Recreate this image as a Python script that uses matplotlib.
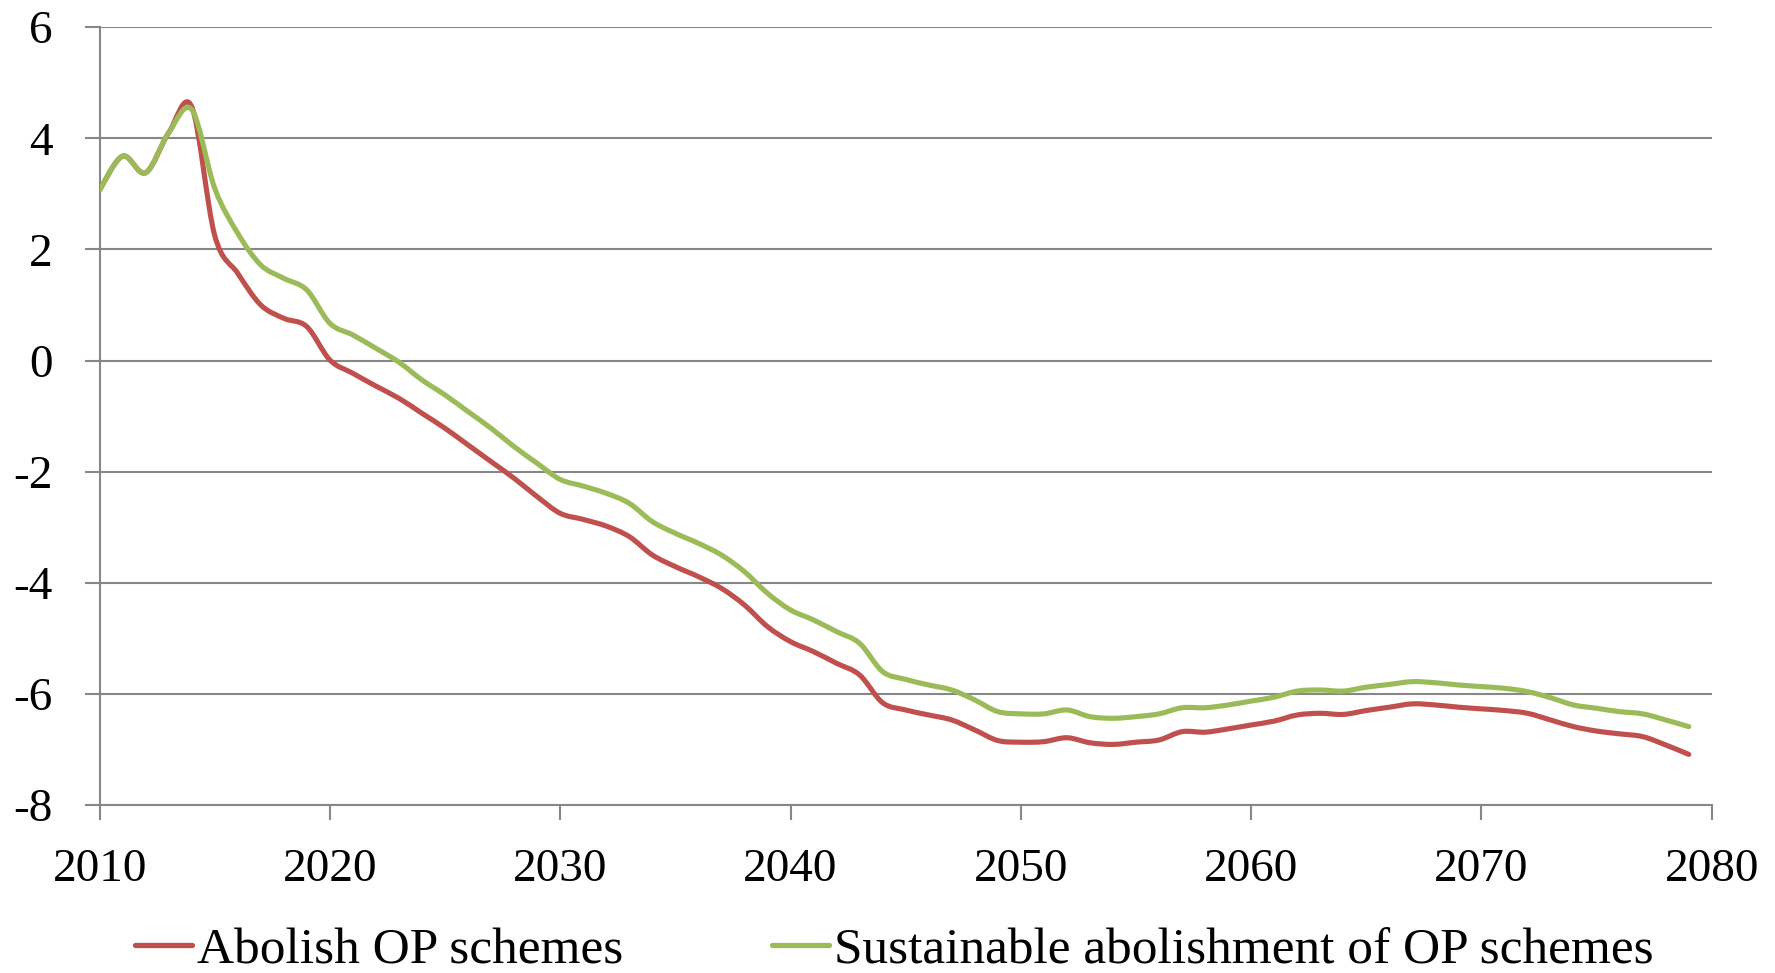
import numpy as np
import matplotlib
matplotlib.use("Agg")
from matplotlib import pyplot as plt
from matplotlib.path import Path
from matplotlib.patches import PathPatch
from matplotlib.lines import Line2D

years = list(range(2010, 2080))

abolish = [
    3.07, 3.68, 3.38, 4.10, 4.57, 2.25, 1.57, 1.00, 0.76, 0.61,
    0.01, -0.23, -0.46, -0.68, -0.95, -1.22, -1.52, -1.82, -2.12, -2.45,
    -2.75, -2.86, -2.98, -3.17, -3.50, -3.71, -3.89, -4.10, -4.40, -4.79,
    -5.06, -5.24, -5.45, -5.66, -6.16, -6.29, -6.38, -6.47, -6.65, -6.84,
    -6.87, -6.86, -6.79, -6.88, -6.91, -6.87, -6.83, -6.68, -6.69, -6.63,
    -6.56, -6.49, -6.38, -6.35, -6.37, -6.30, -6.24, -6.18, -6.20, -6.24,
    -6.27, -6.30, -6.35, -6.47, -6.59, -6.67, -6.72, -6.77, -6.92, -7.09,
]

sustainable = [
    3.07, 3.68, 3.38, 4.10, 4.52, 3.10, 2.29, 1.72, 1.48, 1.27,
    0.67, 0.46, 0.22, -0.03, -0.35, -0.62, -0.92, -1.22, -1.55, -1.85,
    -2.14, -2.26, -2.39, -2.57, -2.90, -3.11, -3.29, -3.50, -3.80, -4.19,
    -4.49, -4.67, -4.88, -5.09, -5.60, -5.74, -5.84, -5.93, -6.11, -6.32,
    -6.36, -6.36, -6.29, -6.41, -6.44, -6.41, -6.36, -6.25, -6.25, -6.20,
    -6.13, -6.06, -5.95, -5.93, -5.95, -5.88, -5.83, -5.78, -5.80, -5.84,
    -5.87, -5.90, -5.96, -6.07, -6.20, -6.26, -6.32, -6.36, -6.47, -6.59,
]

labels = ["Abolish OP schemes", "Sustainable abolishment of OP schemes"]
colors = ["#C0504D", "#9BBB59"]
grey = "#878787"

plt.rcParams["font.family"] = ["Liberation Serif", "DejaVu Serif"]


def smooth_path(x, y):
    # cubic bezier through every point (Catmull-Rom style control points)
    pts = np.column_stack([x, y]).astype(float)
    verts = [pts[0]]
    codes = [Path.MOVETO]
    n = len(pts)
    for i in range(n - 1):
        p0 = pts[i - 1] if i > 0 else pts[i]
        p1 = pts[i]
        p2 = pts[i + 1]
        p3 = pts[i + 2] if i + 2 < n else pts[i + 1]
        c1 = p1 + (p2 - p0) / 6.0
        c2 = p2 - (p3 - p1) / 6.0
        verts += [c1, c2, p2]
        codes += [Path.CURVE4] * 3
    return Path(verts, codes)


fig = plt.figure(figsize=(17.75, 9.73), dpi=100)
ax = fig.add_axes([0.0561, 0.1727, 0.9083, 0.7993])

handles = []
for series, color, label in zip([abolish, sustainable], colors, labels):
    patch = PathPatch(smooth_path(years, series), fill=False, edgecolor=color,
                      linewidth=3.7, capstyle="round", joinstyle="round", zorder=3)
    ax.add_patch(patch)
    handles.append(Line2D([0], [0], color=color, linewidth=3.8,
                          solid_capstyle="round", label=label))

ax.set_xlim(2010, 2080)
ax.set_ylim(-8, 6)
ax.set_xticks(range(2010, 2081, 10))
ax.set_yticks(range(-8, 7, 2))
ax.set_yticklabels([str(v) for v in range(-8, 7, 2)])

ax.grid(axis="y", color=grey, linewidth=1.5)
ax.set_axisbelow(True)
for side in ["top", "right"]:
    ax.spines[side].set_visible(False)
for side in ["left", "bottom"]:
    ax.spines[side].set_color(grey)
    ax.spines[side].set_linewidth(1.5)

ax.tick_params(axis="both", colors=grey, labelcolor="black", labelsize=34,
               length=11, width=1.5, direction="out")
ax.tick_params(axis="y", pad=23)
ax.tick_params(axis="x", pad=20)

fig.legend(handles=handles, loc="center", bbox_to_anchor=(0.504, 0.023),
           ncol=2, frameon=False, fontsize=37, handlelength=1.1,
           handletextpad=0.1, columnspacing=2.9, borderaxespad=0, borderpad=0)

fig.savefig("out.png", dpi=100)
